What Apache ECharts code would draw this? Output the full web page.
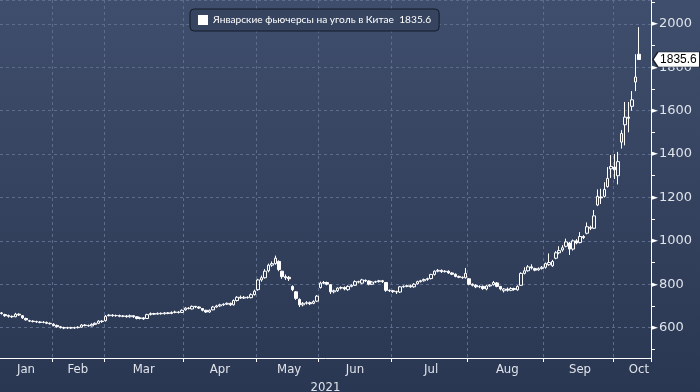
<!DOCTYPE html>
<html><head><meta charset="utf-8">
<script src="https://cdn.jsdelivr.net/npm/echarts@6/dist/echarts.min.js"></script>
<style>html,body{margin:0;padding:0;background:#2c3a55;}#c{width:700px;height:392px;}</style>
</head><body><div id="c"></div>
<script>
// ---- data ----
var seriesName = 'Январские фьючерсы на уголь в Китае';
var lastValue = 1835.6;
var monthNames = ['Jan','Feb','Mar','Apr','May','Jun','Jul','Aug','Sep','Oct'];
var tradingDaysShown = [15,15,23,21,18,21,22,22,20,8];
var emptySlots = 3;
var yTicks = [600,800,1000,1200,1400,1600,1800,2000];
var yearLabel = '2021';
// [open, close, low, high]
var janOHLC = [[665,668,660,672],[660,655,650,664],[656,652,646,660],[652,650,645,656],[650,662,648,668],[662,658,654,666],[655,645,640,658],[642,636,632,646],[632,630,626,636],[630,628,624,634],[628,626,622,632],[626,624,620,630],[624,625,620,630],[624,620,616,628],[620,618,614,624]];
var febOHLC = [[616,610,606,620],[610,604,600,614],[604,600,596,608],[600,598,593,604],[598,600,594,604],[600,598,594,604],[598,600,595,604],[600,602,596,606],[602,612,600,616],[612,610,606,616],[610,608,604,614],[608,615,605,620],[615,620,612,624],[620,630,616,634],[630,628,622,634]];
var marOHLC = [[632,652,628,658],[655,658,652,662],[658,655,650,662],[655,656,650,660],[656,652,648,660],[652,654,648,658],[654,650,646,658],[650,655,646,660],[655,650,645,658],[650,642,638,652],[642,645,638,650],[645,640,636,648],[642,660,640,664],[660,665,656,670],[665,662,658,668],[662,666,660,670],[666,664,660,670],[664,668,660,672],[668,665,662,672],[665,670,662,675],[670,672,666,678],[672,670,665,676],[670,680,668,684]];
var aprOHLC = [[682,690,678,694],[690,688,684,694],[686,698,684,702],[698,695,690,700],[695,690,686,698],[688,680,675,690],[680,672,668,682],[672,680,668,684],[682,695,680,700],[695,700,692,705],[700,705,696,710],[705,708,700,712],[708,712,704,716],[712,705,700,715],[705,725,702,730],[725,740,720,745],[740,736,732,748],[736,740,732,746],[740,738,734,744],[738,752,735,758],[752,768,748,775]];
var mayOHLC = [[775,820,770,825],[820,830,812,840],[830,860,826,870],[862,888,855,895],[888,895,880,905],[895,920,890,932],[905,868,860,910],[860,835,825,862],[835,830,820,845],[832,825,815,838],[790,775,768,795],[765,735,728,768],[730,705,695,735],[705,712,698,718],[712,715,706,722],[715,710,704,720],[712,720,708,726],[722,745,718,750]];
var junOHLC = [[785,805,780,812],[805,808,800,815],[808,800,795,812],[798,765,755,800],[765,770,758,775],[770,782,765,786],[782,785,776,790],[785,778,772,790],[775,790,770,795],[790,795,786,800],[795,812,792,818],[812,810,804,816],[805,820,800,825],[818,815,810,822],[815,800,795,818],[800,810,796,814],[810,812,806,816],[812,816,808,820],[816,812,806,820],[808,772,765,810],[772,770,764,776]];
var julOHLC = [[770,766,760,774],[766,764,755,770],[764,788,760,792],[788,790,784,795],[790,793,786,798],[793,788,784,798],[788,800,784,805],[802,812,798,816],[812,816,808,820],[816,822,812,826],[822,826,816,830],[826,845,822,848],[845,860,840,864],[860,864,855,870],[864,858,852,868],[858,860,854,865],[860,852,848,864],[852,846,842,856],[846,836,832,850],[836,832,828,840],[832,830,825,836],[830,850,826,875]];
var augOHLC = [[825,800,795,828],[800,795,790,804],[795,788,782,800],[788,790,782,795],[790,780,774,794],[778,792,772,796],[792,796,788,800],[798,808,794,815],[806,790,786,810],[790,778,772,792],[770,778,762,782],[778,772,766,785],[772,780,768,786],[780,776,770,784],[774,790,770,795],[795,850,792,855],[850,862,845,878],[862,880,858,888],[880,875,868,892],[872,865,860,876],[866,872,862,878],[872,878,868,884]];
var sepOHLC = [[878,895,872,900],[890,900,885,942],[885,905,880,912],[920,945,915,952],[945,955,938,975],[958,968,950,980],[975,995,970,1010],[990,962,935,995],[962,1000,955,1006],[1000,990,984,1008],[992,1020,988,1040],[1020,1015,1008,1026],[1035,1065,1030,1085],[1062,1058,1050,1070],[1058,1115,1055,1142],[1165,1205,1160,1237],[1202,1198,1170,1240],[1205,1237,1200,1270],[1250,1288,1245,1340],[1332,1343,1290,1395]];
var octOHLC = [[1340,1328,1285,1400],[1300,1365,1260,1410],[1455,1495,1425,1510],[1535,1570,1440,1640],[1570,1565,1500,1640],[1620,1650,1600,1690],[1732,1755,1690,1860],[1860,1835.6,1835.6,1985]];

// ---- build ----
var candles = [].concat(janOHLC, febOHLC, marOHLC, aprOHLC, mayOHLC, junOHLC, julOHLC, augOHLC, sepOHLC, octOHLC);
var categories = [];
var monthStart = {};
var monthMid = {};
var idx = 0;
tradingDaysShown.forEach(function (n, m) {
  if (idx > 0) monthStart[idx] = true;
  var mid = (m === tradingDaysShown.length - 1) ? idx + n - 1 : idx + Math.floor((n - 1) / 2 + 0.5);
  monthMid[mid] = monthNames[m];
  for (var d = 0; d < n; d++) categories.push(monthNames[m] + '-' + (d + 1));
  idx += n;
});
for (var e = 0; e < emptySlots; e++) categories.push('');

var axisFont = "'Liberation Sans Narrow','DejaVu Sans Condensed','Liberation Sans',sans-serif";
var chart = echarts.init(document.getElementById('c'), null, {renderer: 'canvas'});
chart.setOption({
  animation: false,
  backgroundColor: {type: 'linear', x: 0, y: 0, x2: 0, y2: 1,
    colorStops: [{offset: 0, color: '#3f4e6c'}, {offset: 1, color: '#2a3752'}]},
  legend: {
    left: 190, top: 9, padding: [6, 8, 6, 8],
    borderColor: '#131a2a', borderWidth: 1, borderRadius: 4,
    backgroundColor: '#36445f',
    icon: 'rect', itemWidth: 10, itemHeight: 10, itemGap: 6,
    itemStyle: {color: '#ffffff', borderColor: '#ffffff', borderWidth: 0},
    textStyle: {color: '#ffffff', fontSize: 10.2, fontFamily: "Lato,'Liberation Sans',sans-serif"},
    formatter: function (n) { return n + '  ' + lastValue; },
    data: [seriesName]
  },
  grid: {left: 0, right: 49, top: 0, bottom: 34, containLabel: false, outerBoundsMode: 'none'},
  xAxis: {
    type: 'category', data: categories, boundaryGap: true,
    axisLine: {show: true, lineStyle: {color: '#ffffff', width: 1}},
    axisTick: {show: true, length: 4, lineStyle: {color: '#ffffff'},
      interval: function (i) { return !!monthStart[i]; }},
    axisLabel: {show: true, color: '#dfe3ea', fontSize: 13, fontFamily: axisFont, margin: 5,
      interval: function (i) { return monthMid[i] !== undefined; },
      formatter: function (v, i) { return monthMid[i] || ''; }},
    splitLine: {show: true, lineStyle: {color: '#5d6c8b', type: [3, 3], width: 1},
      interval: function (i) { return !!monthStart[i]; }},
    name: yearLabel, nameLocation: 'middle', nameGap: 19,
    nameTextStyle: {color: '#dfe3ea', fontSize: 13, fontFamily: axisFont}
  },
  yAxis: {
    type: 'value', position: 'right', min: 460, max: 2110, splitNumber: 8, scale: true,
    axisLine: {show: true, lineStyle: {color: '#ffffff', width: 1}},
    axisTick: {show: false},
    minorTick: {show: true, splitNumber: 2, length: 4, lineStyle: {color: '#ffffff'}},
    axisLabel: {show: true, margin: 0, showMinLabel: false, showMaxLabel: false,
      formatter: function (v) { return yTicks.indexOf(v) >= 0 ? '{t|►}{v|' + v + '}' : ''; },
      rich: {t: {color: '#ffffff', fontSize: 9, fontFamily: 'DejaVu Sans', padding: [0, 1, 0, 0]},
             v: {color: '#dfe3ea', fontSize: 13, fontFamily: "'DejaVu Sans',sans-serif"}}},
    splitLine: {show: true, lineStyle: {color: '#5d6c8b', type: [3, 3], width: 1}}
  },
  series: [{
    name: seriesName, type: 'candlestick', data: candles, barWidth: 3,
    itemStyle: {color: 'rgba(0,0,0,0)', color0: '#ffffff', borderColor: '#ffffff', borderColor0: '#ffffff', borderWidth: 1},
    emphasis: {disabled: true},
    markPoint: {
      symbol: 'path://M0,7.5 L5,0 L47,0 L47,15 L5,15 Z',
      symbolSize: [47, 15], symbolKeepAspect: false, symbolOffset: [37.5, 0],
      itemStyle: {color: '#ffffff', borderColor: '#1a1f2b', borderWidth: 1},
      label: {show: true, color: '#000000', fontSize: 12, fontFamily: "'Liberation Sans',sans-serif",
        offset: [2, 0], formatter: function () { return String(lastValue); }},
      data: [{coord: [candles.length - 1, lastValue], value: lastValue}]
    }
  }]
});
</script></body></html>
